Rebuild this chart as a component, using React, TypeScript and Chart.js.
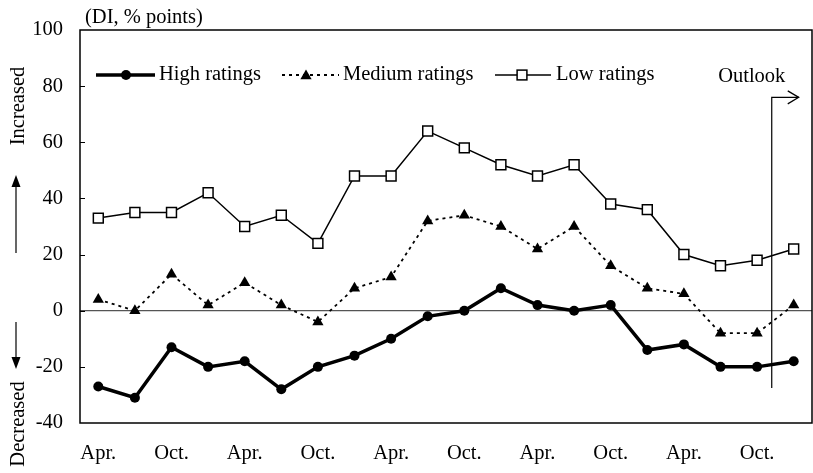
import React, { useEffect, useRef } from 'react';
import { Chart, registerables } from 'chart.js';
Chart.register(...registerables);

const categories = [
  'Apr.', 'Jul.', 'Oct.', 'Jan.',
  'Apr.', 'Jul.', 'Oct.', 'Jan.',
  'Apr.', 'Jul.', 'Oct.', 'Jan.',
  'Apr.', 'Jul.', 'Oct.', 'Jan.',
  'Apr.', 'Jul.', 'Oct.', 'Jan.',
];
const shownTickLabels = ['Apr.', 'Oct.'];
const highRatings = [-27, -31, -13, -20, -18, -28, -20, -16, -10, -2, 0, 8, 2, 0, 2, -14, -12, -20, -20, -18];
const mediumRatings = [4, 0, 13, 2, 10, 2, -4, 8, 12, 32, 34, 30, 22, 30, 16, 8, 6, -8, -8, 2];
const lowRatings = [33, 35, 35, 42, 30, 34, 24, 48, 48, 64, 58, 52, 48, 52, 38, 36, 20, 16, 18, 22];
const seriesNames = ['High ratings', 'Medium ratings', 'Low ratings'];
const yMin = -40;
const yMax = 100;
const yStep = 20;
const unitLabel = '(DI, % points)';
const outlookLabel = 'Outlook';
const outlookStartIndex = 18.4;
const outlookTop = 76;
const outlookBottom = -27.5;

const FONT = "'Liberation Serif', 'Times New Roman', serif";
const FS = 20.5;

function drawMarker(ctx: CanvasRenderingContext2D, kind: string, x: number, y: number) {
  ctx.save();
  ctx.fillStyle = '#000';
  ctx.strokeStyle = '#000';
  if (kind === 'circle') {
    ctx.beginPath();
    ctx.arc(x, y, 5, 0, Math.PI * 2);
    ctx.fill();
  } else if (kind === 'triangle') {
    const r = 6.5;
    ctx.beginPath();
    ctx.moveTo(x, y - r);
    ctx.lineTo(x + r * Math.cos(Math.PI / 6), y + r / 2);
    ctx.lineTo(x - r * Math.cos(Math.PI / 6), y + r / 2);
    ctx.closePath();
    ctx.fill();
  } else {
    const s = 4.9;
    ctx.fillStyle = '#fff';
    ctx.lineWidth = 1.5;
    ctx.fillRect(x - s, y - s, 2 * s, 2 * s);
    ctx.strokeRect(x - s, y - s, 2 * s, 2 * s);
  }
  ctx.restore();
}

const decorPlugin = {
  id: 'decor',
  beforeDatasetsDraw(chart: any) {
    const { ctx, chartArea, scales } = chart;
    const y0 = scales.y.getPixelForValue(0);
    ctx.save();
    ctx.strokeStyle = '#555';
    ctx.lineWidth = 1.2;
    ctx.beginPath();
    ctx.moveTo(chartArea.left, y0);
    ctx.lineTo(chartArea.right, y0);
    ctx.stroke();
    ctx.restore();
  },
  afterDraw(chart: any) {
    const { ctx, chartArea, scales } = chart;
    const { left, right, top, bottom } = chartArea;
    ctx.save();
    // frame
    ctx.strokeStyle = '#000';
    ctx.lineWidth = 1.5;
    ctx.strokeRect(left, top, right - left, bottom - top);
    // inner y ticks
    ctx.lineWidth = 1;
    for (let v = yMin + yStep; v < yMax; v += yStep) {
      const py = Math.round(scales.y.getPixelForValue(v)) + 0.5;
      ctx.beginPath();
      ctx.moveTo(left, py);
      ctx.lineTo(left + 5, py);
      ctx.stroke();
    }
    // unit label
    ctx.fillStyle = '#000';
    ctx.font = `${FS}px ${FONT}`;
    ctx.textBaseline = 'middle';
    ctx.textAlign = 'left';
    ctx.fillText(unitLabel, 85, 18);

    // Increased / Decreased
    ctx.save();
    ctx.translate(19, 106);
    ctx.rotate(-Math.PI / 2);
    ctx.textAlign = 'center';
    ctx.fillText('Increased', 0, 0);
    ctx.restore();
    ctx.save();
    ctx.translate(19, 424);
    ctx.rotate(-Math.PI / 2);
    ctx.textAlign = 'center';
    ctx.fillText('Decreased', 0, 0);
    ctx.restore();

    // arrows
    ctx.lineWidth = 1.2;
    ctx.beginPath();
    ctx.moveTo(16, 253);
    ctx.lineTo(16, 185);
    ctx.stroke();
    ctx.beginPath();
    ctx.moveTo(16, 175);
    ctx.lineTo(11.5, 187);
    ctx.lineTo(20.5, 187);
    ctx.closePath();
    ctx.fill();
    ctx.beginPath();
    ctx.moveTo(16, 322);
    ctx.lineTo(16, 358);
    ctx.stroke();
    ctx.beginPath();
    ctx.moveTo(16, 369);
    ctx.lineTo(11.5, 357);
    ctx.lineTo(20.5, 357);
    ctx.closePath();
    ctx.fill();

    // Outlook
    const ox = scales.x.getPixelForValue(outlookStartIndex);
    const oTop = scales.y.getPixelForValue(outlookTop);
    const oBot = scales.y.getPixelForValue(outlookBottom);
    ctx.lineWidth = 1.2;
    ctx.beginPath();
    ctx.moveTo(ox, oBot);
    ctx.lineTo(ox, oTop);
    ctx.lineTo(ox + 27, oTop);
    ctx.stroke();
    ctx.beginPath();
    ctx.moveTo(ox + 16, oTop - 6.5);
    ctx.lineTo(ox + 27, oTop);
    ctx.lineTo(ox + 16, oTop + 6.5);
    ctx.stroke();
    ctx.textAlign = 'center';
    ctx.fillText(outlookLabel, ox - 20, oTop - 21);

    // legend
    const ly = 75;
    ctx.textAlign = 'left';
    // High
    ctx.lineWidth = 3.5;
    ctx.beginPath();
    ctx.moveTo(96, ly);
    ctx.lineTo(155, ly);
    ctx.stroke();
    drawMarker(ctx, 'circle', 126, ly);
    ctx.fillText(seriesNames[0], 159, ly);
    // Medium
    ctx.lineWidth = 1.8;
    ctx.setLineDash([3, 4]);
    ctx.beginPath();
    ctx.moveTo(282, ly);
    ctx.lineTo(339, ly);
    ctx.stroke();
    ctx.setLineDash([]);
    drawMarker(ctx, 'triangle', 306, ly + 1);
    ctx.fillText(seriesNames[1], 343, ly);
    // Low
    ctx.lineWidth = 1.5;
    ctx.beginPath();
    ctx.moveTo(495, ly);
    ctx.lineTo(551, ly);
    ctx.stroke();
    drawMarker(ctx, 'rect', 522, ly);
    ctx.fillText(seriesNames[2], 556, ly);
    ctx.restore();
  },
};

export default function App() {
  const ref = useRef<HTMLCanvasElement>(null);
  useEffect(() => {
    document.body.style.margin = '0';
    const chart = new Chart(ref.current as HTMLCanvasElement, {
      type: 'line',
      data: {
        labels: categories,
        datasets: [
          {
            label: seriesNames[0],
            data: highRatings,
            borderColor: '#000',
            backgroundColor: '#000',
            borderWidth: 3.5,
            pointStyle: 'circle',
            pointRadius: 5,
            pointBackgroundColor: '#000',
            pointBorderColor: '#000',
            pointBorderWidth: 0,
            tension: 0,
          },
          {
            label: seriesNames[1],
            data: mediumRatings,
            borderColor: '#000',
            backgroundColor: '#000',
            borderWidth: 1.8,
            borderDash: [3, 4],
            pointStyle: 'triangle',
            pointRadius: 6.5,
            pointBackgroundColor: '#000',
            pointBorderColor: '#000',
            pointBorderWidth: 0,
            tension: 0,
          },
          {
            label: seriesNames[2],
            data: lowRatings,
            borderColor: '#000',
            backgroundColor: '#fff',
            borderWidth: 1.5,
            pointStyle: 'rect',
            pointRadius: 7,
            pointBackgroundColor: '#fff',
            pointBorderColor: '#000',
            pointBorderWidth: 1.5,
            tension: 0,
          },
        ],
      },
      options: {
        animation: false,
        responsive: false,
        maintainAspectRatio: false,
        events: [],
        layout: { padding: { top: 30, right: 1, left: 0, bottom: 0 }, autoPadding: false },
        plugins: { legend: { display: false }, tooltip: { enabled: false } },
        scales: {
          x: {
            type: 'category',
            offset: true,
            grid: { display: false, drawTicks: false },
            border: { display: false },
            ticks: {
              autoSkip: false,
              maxRotation: 0,
              padding: 18,
              color: '#000',
              font: { family: FONT, size: FS },
              callback: (_v: any, i: number) =>
                shownTickLabels.includes(categories[i]) ? categories[i] : '',
            },
            afterFit: (s: any) => {
              s.height = 50;
              s.paddingLeft = 0;
              s.paddingRight = 0;
            },
          },
          y: {
            min: yMin,
            max: yMax,
            grid: { display: false, drawTicks: false },
            border: { display: false },
            ticks: {
              stepSize: yStep,
              padding: 17,
              color: '#000',
              font: { family: FONT, size: FS },
            },
            afterFit: (s: any) => {
              s.width = 80;
              s.paddingTop = 0;
              s.paddingBottom = 0;
            },
          },
        },
      },
      plugins: [decorPlugin],
    });
    return () => chart.destroy();
  }, []);
  return (
    <div style={{ width: 813, height: 473 }}>
      <canvas ref={ref} width={813} height={473} style={{ display: 'block' }} />
    </div>
  );
}
